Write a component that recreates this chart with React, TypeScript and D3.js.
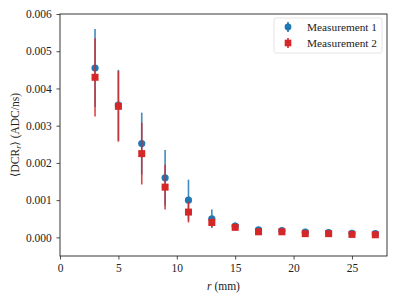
import React from "react";
import * as d3 from "d3";

const radii = [3, 5, 7, 9, 11, 13, 15, 17, 19, 21, 23, 25, 27];
const meas1 = [0.00455, 0.00355, 0.00252, 0.0016, 0.001, 0.0005, 0.0003, 0.0002, 0.00018, 0.00014, 0.00013, 0.00011, 0.0001];
const meas1Err = [0.00105, 0.00095, 0.00083, 0.00075, 0.00055, 0.00025, 0.0001, 0.00006, 0.00005, 0.00005, 0.00005, 0.00005, 0.00005];
const meas2 = [0.0043, 0.00352, 0.00225, 0.00135, 0.00068, 0.0004, 0.00027, 0.00015, 0.00015, 0.0001, 0.0001, 0.00008, 0.00007];
const meas2Err = [0.00105, 0.00095, 0.00083, 0.0006, 0.00028, 0.00013, 0.00008, 0.00008, 0.00005, 0.00006, 0.00005, 0.00006, 0.00005];
const xTicks = [0, 5, 10, 15, 20, 25];
const yTicks = [0, 0.001, 0.002, 0.003, 0.004, 0.005, 0.006];
const seriesNames = ["Measurement 1", "Measurement 2"];

const width = 399;
const height = 299;
const margin = { left: 60, right: 12, top: 14, bottom: 43 };
const blue = "#1f77b4";
const red = "#d62728";
const font = "'Liberation Serif', 'DejaVu Serif', serif";

export default function App() {
    const svgRef = React.useRef<SVGSVGElement>(null);

    React.useEffect(() => {
        const svg = d3.select(svgRef.current);
        svg.selectAll("*").remove();

        const x = d3.scaleLinear().domain([0, 28]).range([margin.left, width - margin.right]);
        const y = d3.scaleLinear().domain([-0.0005, 0.006]).range([height - margin.bottom, margin.top]);

        svg.append("rect").attr("width", width).attr("height", height).attr("fill", "white");

        const gx = svg.append("g")
            .attr("transform", `translate(0, ${height - margin.bottom})`)
            .call(d3.axisBottom(x).tickValues(xTicks).tickSize(3.5).tickSizeOuter(0));
        gx.selectAll("text").attr("font-size", 11.5).attr("font-family", font).attr("fill", "#222").attr("dy", "0.85em");

        const gy = svg.append("g")
            .attr("transform", `translate(${margin.left}, 0)`)
            .call(d3.axisLeft(y).tickValues(yTicks).tickFormat(d3.format(".3f")).tickSize(3.5).tickSizeOuter(0));
        gy.selectAll("text").attr("font-size", 11.5).attr("font-family", font).attr("fill", "#222").attr("dx", "-0.15em");
        svg.selectAll(".domain").remove();
        svg.selectAll(".tick line").attr("stroke", "#222").attr("stroke-width", 0.8);

        // frame
        svg.append("rect")
            .attr("x", margin.left).attr("y", margin.top)
            .attr("width", width - margin.left - margin.right)
            .attr("height", height - margin.top - margin.bottom)
            .attr("fill", "none").attr("stroke", "#222").attr("stroke-width", 0.9);

        const drawSeries = (vals: number[], errs: number[], color: string, square: boolean) => {
            const g = svg.append("g");
            g.selectAll("line")
                .data(radii)
                .enter()
                .append("line")
                .attr("x1", d => x(d)).attr("x2", d => x(d))
                .attr("y1", (d, i) => y(vals[i] - errs[i]))
                .attr("y2", (d, i) => y(vals[i] + errs[i]))
                .attr("stroke", color).attr("stroke-width", 1.6).attr("stroke-opacity", 0.85);
            if (square) {
                g.selectAll("rect")
                    .data(radii)
                    .enter()
                    .append("rect")
                    .attr("x", d => x(d) - 3.5).attr("y", (d, i) => y(vals[i]) - 3.5)
                    .attr("width", 7).attr("height", 7)
                    .attr("fill", color);
            } else {
                g.selectAll("circle")
                    .data(radii)
                    .enter()
                    .append("circle")
                    .attr("cx", d => x(d)).attr("cy", (d, i) => y(vals[i]))
                    .attr("r", 3.6)
                    .attr("fill", color);
            }
        };
        drawSeries(meas1, meas1Err, blue, false);
        drawSeries(meas2, meas2Err, red, true);

        // legend
        const lg = svg.append("g").attr("transform", "translate(274, 18)");
        lg.append("rect").attr("width", 108).attr("height", 35).attr("rx", 2)
            .attr("fill", "white").attr("fill-opacity", 0.8).attr("stroke", "#ddd").attr("stroke-width", 0.8);
        seriesNames.forEach((name, i) => {
            const cy = 9 + i * 16;
            const color = i === 0 ? blue : red;
            lg.append("line").attr("x1", 14).attr("x2", 14).attr("y1", cy - 5).attr("y2", cy + 5)
                .attr("stroke", color).attr("stroke-width", 1.6);
            if (i === 0) {
                lg.append("circle").attr("cx", 14).attr("cy", cy).attr("r", 3.4).attr("fill", color);
            } else {
                lg.append("rect").attr("x", 10.7).attr("y", cy - 3.3).attr("width", 6.6).attr("height", 6.6).attr("fill", color);
            }
            lg.append("text").attr("x", 33).attr("y", cy).attr("dy", "0.35em")
                .attr("font-size", 11).attr("font-family", font).attr("fill", "#222")
                .attr("textLength", 70).attr("lengthAdjust", "spacingAndGlyphs").text(name);
        });

        // axis labels
        const xl = svg.append("text")
            .attr("x", (margin.left + width - margin.right) / 2).attr("y", 290)
            .attr("text-anchor", "middle").attr("font-size", 11.5).attr("font-family", font).attr("fill", "#222");
        xl.append("tspan").attr("font-style", "italic").text("r");
        xl.append("tspan").text(" (mm)");

        const yl = svg.append("text")
            .attr("transform", `translate(19, ${(margin.top + height - margin.bottom) / 2}) rotate(-90)`)
            .attr("text-anchor", "middle").attr("font-size", 11.5).attr("font-family", font).attr("fill", "#222");
        yl.append("tspan").text("\u27E8DCR");
        yl.append("tspan").attr("font-style", "italic").attr("font-size", 8).attr("dy", 2).text("r");
        yl.append("tspan").attr("dy", -2).text("\u27E9 (ADC/ns)");
    }, []);

    return <svg ref={svgRef} width={width} height={height} style={{ position: "absolute", left: 0, top: 0 }}></svg>;
}
